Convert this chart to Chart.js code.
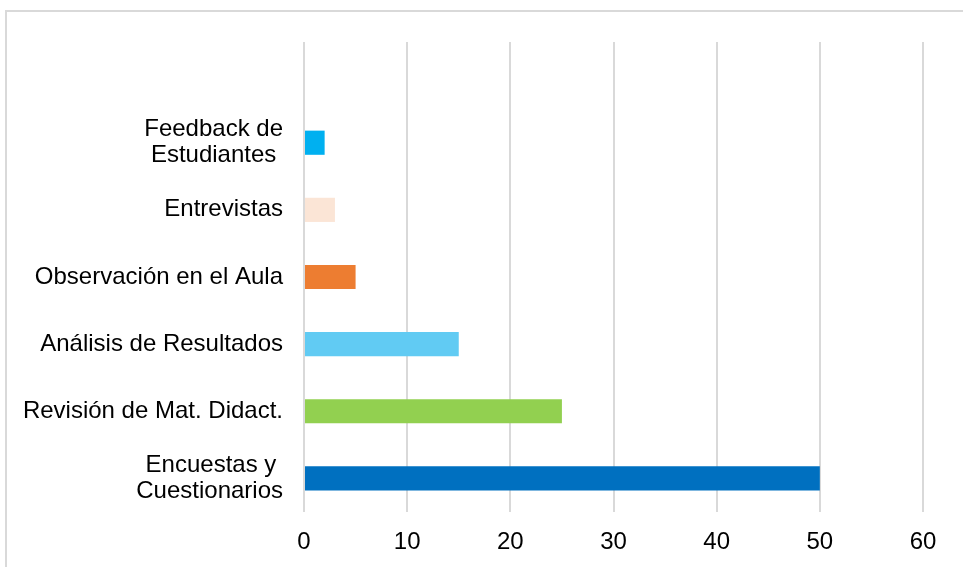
<!DOCTYPE html>
<html>
<head>
<meta charset="utf-8">
<script src="https://cdn.jsdelivr.net/npm/chart.js@4.4.1/dist/chart.umd.min.js"></script>
<style>
    body { margin: 0; background: #fff; }
    #wrap { position: relative; width: 963px; height: 567px; overflow: hidden; }
    #frame { position: absolute; left: 5px; top: 10px; width: 1000px; height: 600px; border: 2px solid #d9d9d9; box-sizing: border-box; }
    canvas { position: absolute; left: 0; top: 0; }
</style>
</head>
<body>
<div id="wrap">
    <div id="frame"></div>
    <canvas id="chart" width="963" height="567"></canvas>
</div>
<script>
// Categories, top to bottom (first row is an empty slot in the original)
const categories = [
    '',
    ['Feedback de', 'Estudiantes '],
    'Entrevistas',
    'Observación en el Aula',
    'Análisis de Resultados',
    'Revisión de Mat. Didact.',
    ['Encuestas y ', 'Cuestionarios']
];
const values = [null, 2, 3, 5, 15, 25, 50];
const barColors = ['#ffffff', '#00B0F0', '#FBE5D6', '#ED7D31', '#61CBF3', '#92D050', '#0070C0'];
const xTicks = [0, 10, 20, 30, 40, 50, 60];

const ctx = document.getElementById('chart').getContext('2d');
new Chart(ctx, {
    type: 'bar',
    data: {
        labels: categories,
        datasets: [{
            data: values,
            backgroundColor: barColors,
            borderWidth: 0,
            categoryPercentage: 1,
            barPercentage: 0.36
        }]
    },
    options: {
        indexAxis: 'y',
        responsive: false,
        animation: false,
        layout: { padding: { top: 42, right: 40, left: 0, bottom: 0 } },
        plugins: { legend: { display: false }, tooltip: { enabled: false } },
        scales: {
            x: {
                min: 0,
                max: 60,
                afterBuildTicks: (axis) => { axis.ticks = xTicks.map(v => ({ value: v })); },
                afterFit: (axis) => { axis.height = 55; axis.paddingLeft = 0; axis.paddingRight = 0; },
                grid: { color: '#d9d9d9', lineWidth: 2, drawTicks: false },
                border: { display: false },
                ticks: { color: '#000', padding: 16, font: { family: 'Liberation Sans', size: 24 } }
            },
            y: {
                afterFit: (axis) => { axis.width = 304; axis.paddingTop = 0; axis.paddingBottom = 0; },
                grid: { display: false, drawTicks: false },
                border: { display: false },
                ticks: { color: '#000', padding: 21, font: { family: 'Liberation Sans', size: 24, lineHeight: 1.07 } }
            }
        }
    }
});
</script>
</body>
</html>
